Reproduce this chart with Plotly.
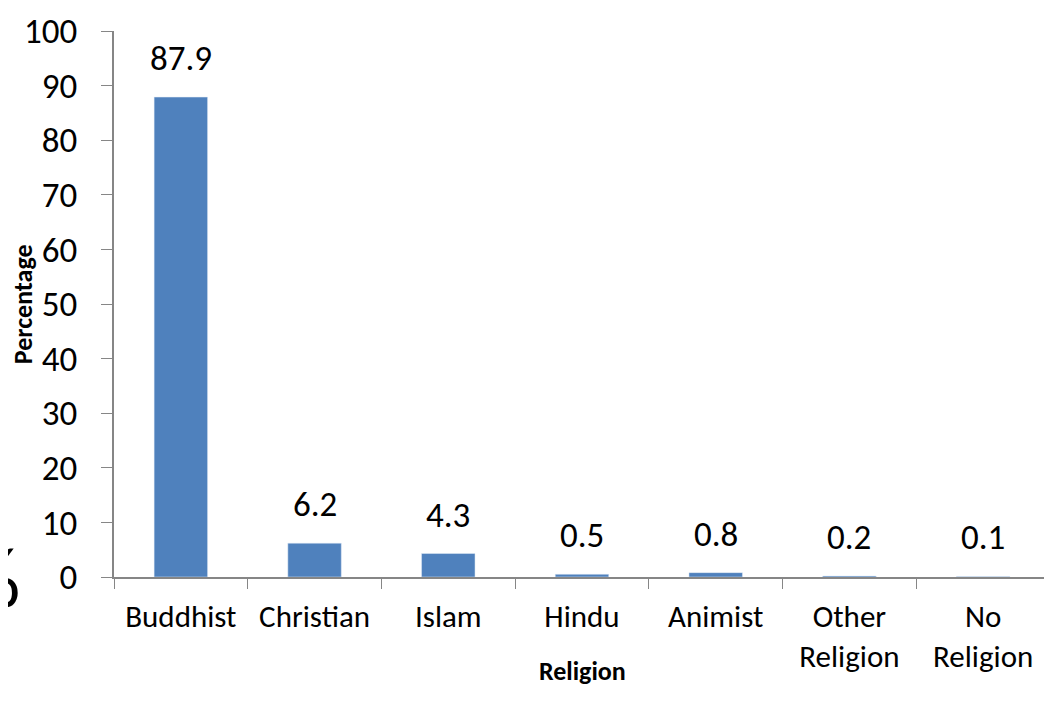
import plotly.graph_objects as go

categories = ["Buddhist", "Christian", "Islam", "Hindu", "Animist", "Other<br>Religion", "No<br>Religion"]
values = [87.9, 6.2, 4.3, 0.5, 0.8, 0.2, 0.1]
labels = ["87.9", "6.2", "4.3", "0.5", "0.8", "0.2", "0.1"]
y_ticks = [0, 10, 20, 30, 40, 50, 60, 70, 80, 90, 100]

FONT = "Carlito, Open Sans, Liberation Sans, sans-serif"

fig = go.Figure(go.Bar(
    x=categories, y=values, marker=dict(color="#4F81BD"),
))

for c, v, t in zip(categories, values, labels):
    fig.add_annotation(
        x=c, y=v, xref="x", yref="y", text=t, showarrow=False,
        yanchor="bottom", yshift=16,
        font=dict(size=35, family=FONT, color="black"),
    )

# page body adds an 8px offset, so the figure is drawn 8px smaller
fig.update_layout(
    width=1044, height=705,
    margin=dict(l=106, r=2, t=16, b=136),
    paper_bgcolor="white", plot_bgcolor="white",
    bargap=0.6, showlegend=False,
    font=dict(family=FONT, color="black"),
)
fig.update_xaxes(
    type="category", tickson="boundaries", ticks="outside", ticklen=10,
    tickcolor="#868686", showline=True, linecolor="#868686", linewidth=1.5,
    showgrid=False, tickfont=dict(size=31, family=FONT), ticklabelstandoff=11,
)
fig.update_yaxes(
    range=[0, 100], tickvals=y_ticks, ticks="outside", ticklen=11,
    tickcolor="#868686", showline=True, linecolor="#868686", linewidth=1.5,
    showgrid=False, zeroline=False, tickfont=dict(size=35, family=FONT),
    ticklabelstandoff=17, ticklabeloverflow="allow",
)
fig.add_annotation(
    x=-0.097, y=0.5, xref="paper", yref="paper", text="<b>Percentage</b>",
    showarrow=False, textangle=-90, xanchor="center", yanchor="middle",
    font=dict(size=26, family=FONT, color="black"),
)
fig.add_annotation(
    x=0.5, y=-0.172, xref="paper", yref="paper", text="<b>Religion</b>",
    showarrow=False, xanchor="center", yanchor="middle",
    font=dict(size=26, family=FONT, color="black"),
)
fig.add_annotation(
    x=-0.098, y=0.0, xref="paper", yref="paper", text="%", showarrow=False,
    font=dict(size=86, family=FONT, color="black"), xanchor="right", yanchor="middle",
)

fig.write_html("out.html")
